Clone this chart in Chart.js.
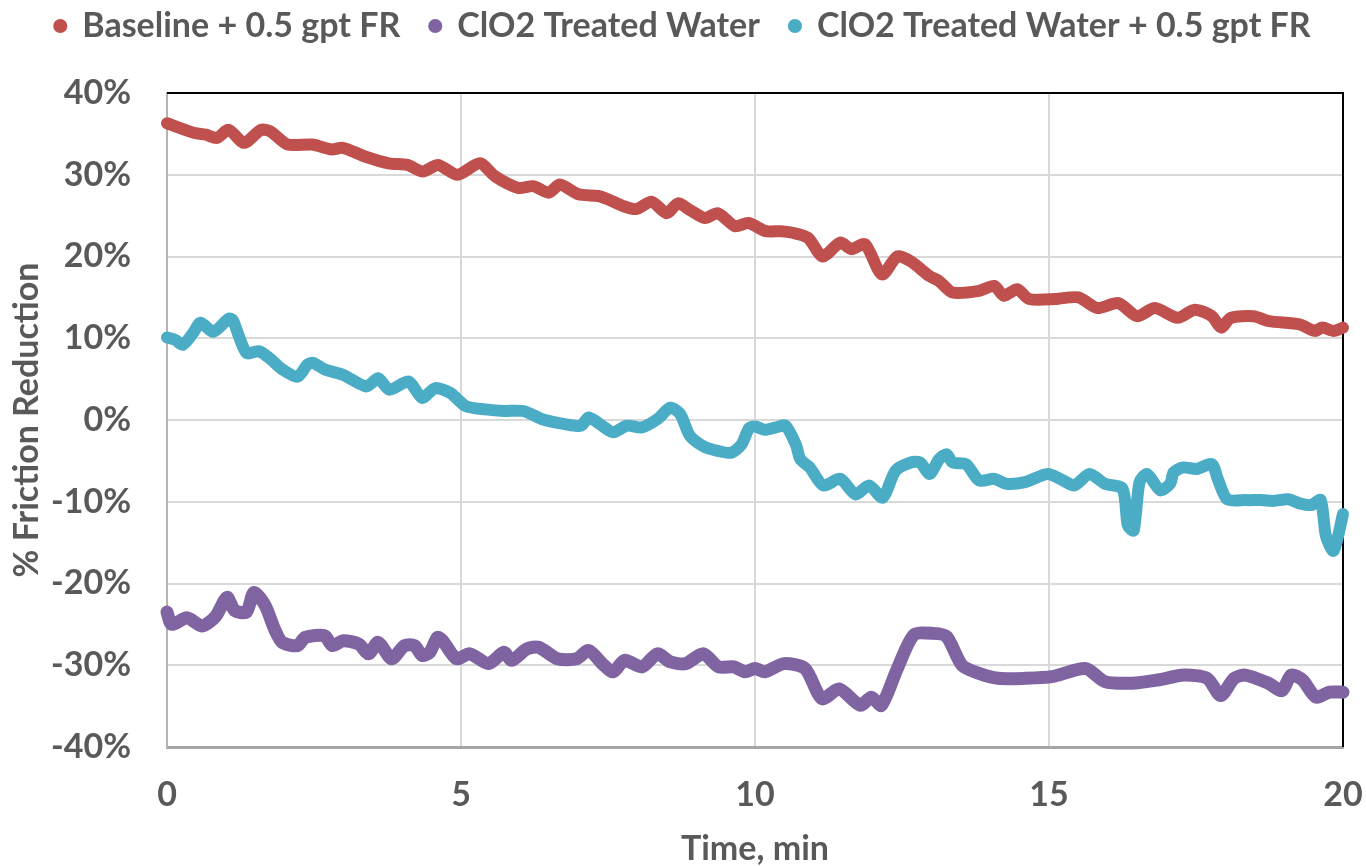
<!DOCTYPE html>
<html>
<head>
<meta charset="utf-8">
<script src="https://cdn.jsdelivr.net/npm/chart.js@4/dist/chart.umd.min.js"></script>
<style>
  html, body { margin: 0; padding: 0; background: #ffffff; }
  #wrap { width: 1366px; height: 866px; }
</style>
</head>
<body>
<div id="wrap"><canvas id="chart" width="1366" height="866"></canvas></div>
<script>
// Friction reduction (%) versus time (min) for three fluids
const baselineTime = [0,0.47,0.66,0.85,1.05,1.31,1.6,1.76,2.05,2.47,
  2.8,2.99,3.38,3.77,4.09,4.35,4.61,4.94,5.32,5.58,
  5.97,6.23,6.49,6.68,7.0,7.33,7.53,7.75,7.98,8.24,
  8.5,8.69,8.89,9.15,9.37,9.66,9.89,10.18,10.44,10.64,
  10.9,11.15,11.45,11.64,11.87,12.16,12.42,12.65,12.97,13.13,
  13.36,13.81,14.07,14.23,14.46,14.66,15.11,15.5,15.82,16.18,
  16.5,16.8,17.19,17.48,17.77,17.93,18.09,18.48,18.74,19.26,
  19.52,19.65,19.84,20];
const baselineFR = [36.3,35.1,34.9,34.5,35.5,33.9,35.5,35.3,33.7,33.7,
  33.1,33.3,32.2,31.4,31.2,30.4,31.2,30.0,31.4,29.8,
  28.4,28.6,27.8,28.8,27.6,27.4,26.9,26.2,25.8,26.7,
  25.3,26.5,25.7,24.7,25.3,23.7,24.1,23.1,23.1,22.9,
  22.3,20.0,21.7,20.9,21.5,17.8,20.0,19.4,17.6,17.0,
  15.6,15.8,16.4,15.2,16.0,14.8,14.8,15.0,13.7,14.3,
  12.7,13.7,12.5,13.5,12.7,11.3,12.5,12.7,12.1,11.7,
  10.9,11.3,10.9,11.3];

const clo2Time = [0,0.08,0.34,0.6,0.83,1.02,1.15,1.35,1.48,1.67,
  1.83,1.96,2.22,2.35,2.68,2.81,3.0,3.26,3.43,3.59,
  3.82,4.04,4.21,4.34,4.47,4.6,4.69,4.92,5.15,5.47,
  5.73,5.86,6.12,6.32,6.64,6.97,7.17,7.43,7.59,7.78,
  8.08,8.34,8.56,8.82,9.12,9.38,9.64,9.83,10.0,10.17,
  10.49,10.85,11.14,11.43,11.79,11.98,12.15,12.41,12.7,13.03,
  13.26,13.52,13.81,14.13,14.59,15.05,15.62,15.95,16.41,16.85,
  17.3,17.69,17.92,18.15,18.34,18.73,18.96,19.12,19.31,19.54,
  19.77,20];
const clo2FR = [-23.5,-25.0,-24.2,-25.2,-24.0,-21.7,-23.3,-23.5,-21.1,-22.7,
  -25.6,-27.2,-27.6,-26.6,-26.4,-27.6,-27.0,-27.4,-28.6,-27.2,
  -29.2,-27.6,-27.6,-28.8,-28.4,-26.6,-27.0,-29.2,-28.6,-29.8,
  -28.4,-29.4,-28.0,-27.8,-29.2,-29.2,-28.2,-30.0,-30.8,-29.4,
  -30.2,-28.6,-29.6,-29.8,-28.6,-30.2,-30.2,-30.8,-30.4,-30.8,
  -29.8,-30.4,-34.1,-32.9,-34.9,-33.9,-34.9,-30.6,-26.3,-26.1,
  -26.5,-30.0,-31.0,-31.6,-31.6,-31.4,-30.4,-32.0,-32.2,-31.8,
  -31.2,-31.6,-33.7,-31.6,-31.2,-32.2,-33.1,-31.2,-31.8,-33.9,
  -33.3,-33.3];

const clo2PlusTime = [0,0.14,0.27,0.44,0.57,0.79,1.05,1.12,1.35,1.57,
  1.77,1.96,2.22,2.39,2.48,2.68,3.0,3.39,3.59,3.78,
  4.11,4.34,4.56,4.82,5.08,5.41,5.73,6.06,6.38,6.77,
  7.04,7.17,7.36,7.59,7.82,8.08,8.34,8.56,8.73,8.89,
  9.12,9.38,9.6,9.77,9.9,10.0,10.17,10.36,10.52,10.7,
  10.77,10.93,11.16,11.45,11.71,11.94,12.17,12.39,12.65,12.81,
  12.97,13.13,13.26,13.36,13.59,13.81,14.07,14.27,14.59,14.98,
  15.24,15.43,15.69,15.95,16.25,16.34,16.44,16.54,16.67,16.89,
  17.06,17.12,17.28,17.51,17.77,17.87,18.03,18.35,18.61,18.81,
  19.07,19.26,19.46,19.62,19.71,19.84,20];
const clo2PlusFR = [10.1,9.8,9.2,10.6,11.9,10.8,12.4,12.2,8.2,8.4,
  7.4,6.2,5.3,6.8,7.0,6.2,5.5,4.1,5.1,3.7,
  4.7,2.7,3.9,3.3,1.7,1.3,1.1,1.1,0.1,-0.5,
  -0.7,0.3,-0.5,-1.5,-0.7,-0.9,0.1,1.5,0.7,-1.9,
  -3.2,-3.8,-4.0,-3.0,-1.0,-0.8,-1.2,-0.9,-0.7,-3.1,
  -4.8,-5.8,-8.0,-7.2,-9.1,-8.0,-9.5,-6.2,-5.2,-5.2,
  -6.6,-4.8,-4.2,-5.2,-5.4,-7.4,-7.2,-7.8,-7.6,-6.6,
  -7.4,-8.0,-6.6,-7.8,-8.4,-12.9,-13.5,-7.6,-6.6,-8.6,
  -7.8,-6.4,-5.8,-6.0,-5.4,-7.2,-9.7,-9.8,-9.8,-9.9,
  -9.7,-10.2,-10.4,-9.8,-14.2,-16.0,-11.5];

const seriesNames = ['Baseline + 0.5 gpt FR', 'ClO2 Treated Water', 'ClO2 Treated Water + 0.5 gpt FR'];
const seriesColors = ['#C0504D', '#8064A2', '#4BACC6'];
const xTicks = [0, 5, 10, 15, 20];
const yTicks = [-40, -30, -20, -10, 0, 10, 20, 30, 40];

const TEXT = '#595959';
const FONT = 'Lato';

function toPoints(times, values) {
  return times.map((t, i) => ({ x: t, y: values[i] }));
}

function makeSeries(name, color, times, values, width) {
  return {
    label: name,
    data: toPoints(times, values),
    borderColor: color,
    backgroundColor: color,
    borderWidth: width,
    borderJoinStyle: 'round',
    borderCapStyle: 'round',
    tension: 0.25,
    pointRadius: 0,
    pointHoverRadius: 0,
    pointStyle: 'circle',
    clip: false
  };
}

// black frame along the top and right edges of the plot area
const framePlugin = {
  id: 'frame',
  beforeDatasetsDraw(chart) {
    const { ctx, chartArea: a } = chart;
    ctx.save();
    ctx.strokeStyle = '#000000';
    ctx.lineWidth = 2;
    ctx.beginPath();
    ctx.moveTo(a.left, a.top);
    ctx.lineTo(a.right, a.top);
    ctx.lineTo(a.right, a.bottom);
    ctx.stroke();
    ctx.restore();
  }
};

const defaultLabels = Chart.defaults.plugins.legend.labels.generateLabels;

new Chart(document.getElementById('chart'), {
  type: 'line',
  data: {
    datasets: [
      makeSeries(seriesNames[0], seriesColors[0], baselineTime, baselineFR, 12),
      makeSeries(seriesNames[1], seriesColors[1], clo2Time, clo2FR, 13),
      makeSeries(seriesNames[2], seriesColors[2], clo2PlusTime, clo2PlusFR, 12)
    ]
  },
  options: {
    responsive: false,
    animation: false,
    devicePixelRatio: 1,
    layout: { padding: { top: -21, right: 0, bottom: 0, left: 0 } },
    plugins: {
      tooltip: { enabled: false },
      legend: {
        position: 'top',
        weight: 3000,
        labels: {
          usePointStyle: true,
          boxWidth: 10,
          boxHeight: 10,
          padding: 30,
          color: TEXT,
          font: { family: FONT, size: 34, weight: 'bold' },
          generateLabels: chart => defaultLabels(chart).map(item => Object.assign(item, { lineWidth: 0 }))
        }
      },
      title: {
        display: true,
        text: '',
        font: { size: 1, lineHeight: 1 },
        padding: { top: 20, bottom: 19 }
      }
    },
    scales: {
      x: {
        type: 'linear',
        min: 0,
        max: 20,
        afterBuildTicks: s => { s.ticks = xTicks.map(v => ({ value: v })); },
        afterFit: s => {
          s.height = 119;
          s.paddingLeft = 0;
          s.paddingRight = 23;
        },
        ticks: {
          padding: 28,
          color: TEXT,
          maxRotation: 0,
          font: { family: FONT, size: 34, weight: 'bold' }
        },
        grid: { color: '#d9d9d9', lineWidth: 2, drawTicks: false },
        border: { color: '#a6a6a6', width: 3 },
        title: {
          display: true,
          text: 'Time, min',
          color: TEXT,
          font: { family: FONT, size: 34, weight: 'bold', lineHeight: 1 },
          padding: { top: 16, bottom: 0 }
        }
      },
      y: {
        type: 'linear',
        min: -40,
        max: 40,
        afterBuildTicks: s => { s.ticks = yTicks.map(v => ({ value: v })); },
        afterFit: s => { s.width = 167; },
        ticks: {
          padding: 36,
          color: TEXT,
          font: { family: FONT, size: 34, weight: 'bold' },
          callback: v => v + '%'
        },
        grid: { color: '#d9d9d9', lineWidth: 2, drawTicks: false },
        border: { color: '#b4b4b4', width: 2 },
        title: {
          display: true,
          text: '% Friction Reduction',
          color: TEXT,
          font: { family: FONT, size: 34, weight: 'bold', lineHeight: 1 },
          padding: { top: 10, bottom: 0 }
        }
      }
    }
  },
  plugins: [framePlugin]
});
</script>
</body>
</html>
